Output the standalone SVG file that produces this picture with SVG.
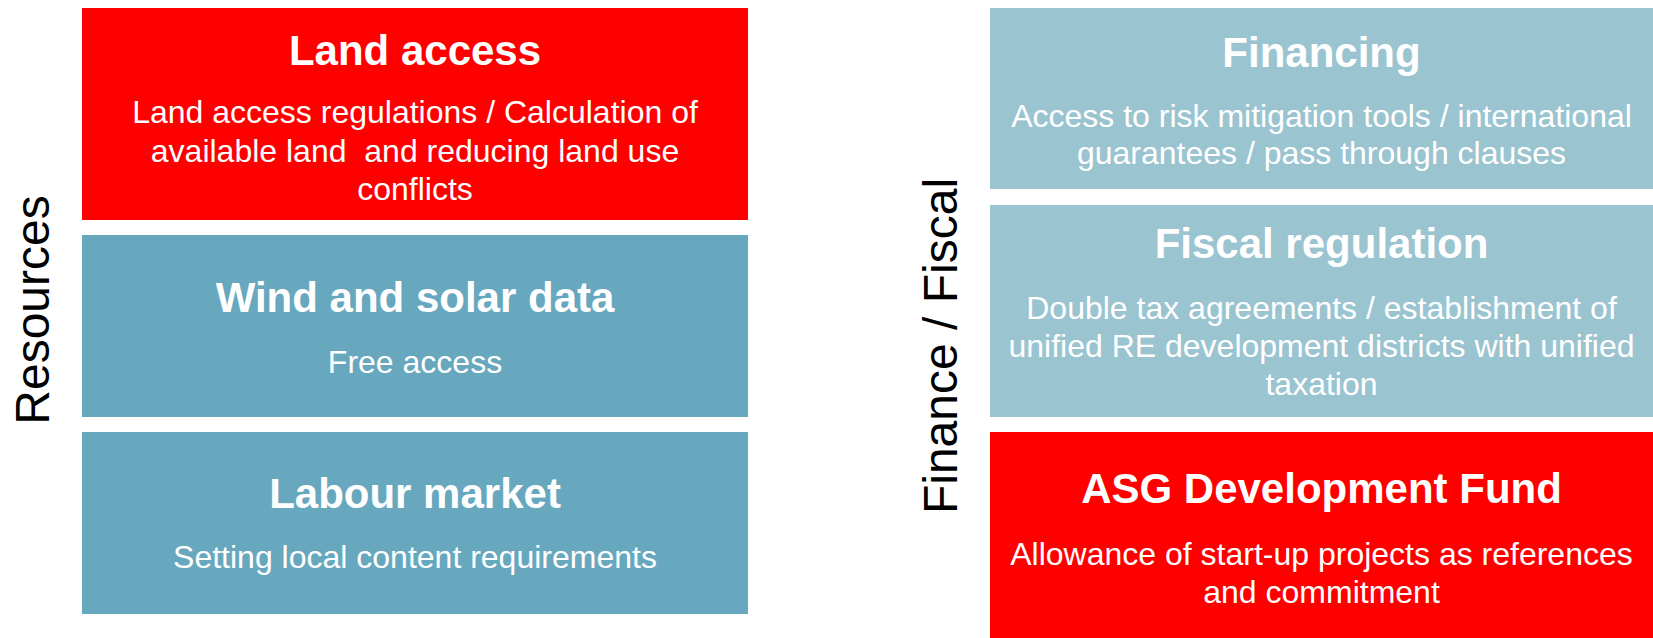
<svg xmlns="http://www.w3.org/2000/svg" width="1653" height="638" viewBox="0 0 1653 638">
<style>
.red{fill:#FF0000}
.teal{fill:#67A8BF}
.light{fill:#9BC4D1}
.t{font-family:"Liberation Sans",Arial,sans-serif;font-weight:bold;font-size:42px;fill:#FFFFFF;text-anchor:middle}
.b{font-family:"Liberation Sans",Arial,sans-serif;font-size:32px;fill:#FFFFFF;text-anchor:middle}
.side{font-family:"Liberation Sans",Arial,sans-serif;font-size:48px;fill:#000000;text-anchor:middle}
</style>
<rect width="1653" height="638" fill="#FFFFFF"/>
<g id="label-resources"><text class="side" transform="translate(49,310) rotate(-90)">Resources</text></g>
<g id="label-finance"><text class="side" transform="translate(957,346) rotate(-90)">Finance / Fiscal</text></g>
<g id="land-access">
<rect class="red" x="82" y="8" width="666" height="212"/>
<text class="t" x="415" y="65">Land access</text>
<text class="b" x="415" y="123">Land access regulations / Calculation of</text>
<text class="b" x="415" y="162" xml:space="preserve">available land  and reducing land use</text>
<text class="b" x="415" y="200">conflicts</text>
</g>
<g id="wind-solar">
<rect class="teal" x="82" y="235" width="666" height="182"/>
<text class="t" x="415" y="312">Wind and solar data</text>
<text class="b" x="415" y="373">Free access</text>
</g>
<g id="labour-market">
<rect class="teal" x="82" y="432" width="666" height="182"/>
<text class="t" x="415" y="508">Labour market</text>
<text class="b" x="415" y="568">Setting local content requirements</text>
</g>
<g id="financing">
<rect class="light" x="990" y="8" width="663" height="181"/>
<text class="t" x="1321.5" y="67">Financing</text>
<text class="b" x="1321.5" y="127">Access to risk mitigation tools / international</text>
<text class="b" x="1321.5" y="164">guarantees / pass through clauses</text>
</g>
<g id="fiscal-regulation">
<rect class="light" x="990" y="205" width="663" height="212"/>
<text class="t" x="1321.5" y="258">Fiscal regulation</text>
<text class="b" x="1321.5" y="319">Double tax agreements / establishment of</text>
<text class="b" x="1321.5" y="357">unified RE development districts with unified</text>
<text class="b" x="1321.5" y="395">taxation</text>
</g>
<g id="asg-fund">
<rect class="red" x="990" y="432" width="663" height="206"/>
<text class="t" x="1321.5" y="503">ASG Development Fund</text>
<text class="b" x="1321.5" y="565">Allowance of start-up projects as references</text>
<text class="b" x="1321.5" y="603">and commitment</text>
</g>
<g id="connectors"/>
</svg>
